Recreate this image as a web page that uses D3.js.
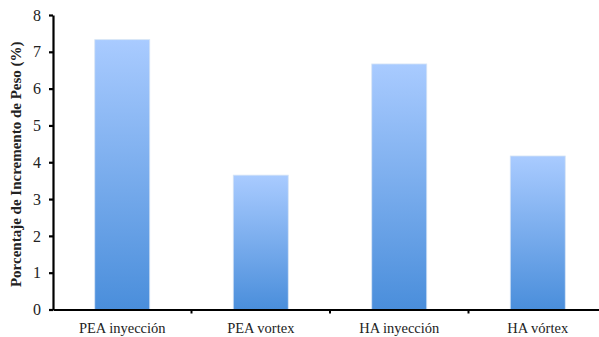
<!DOCTYPE html>
<html>
<head>
<meta charset="utf-8">
<script src="https://cdn.jsdelivr.net/npm/d3@7"></script>
<style>
  html, body { margin: 0; padding: 0; background: #fff; }
  svg { display: block; }
</style>
</head>
<body>
<svg id="chart" width="599" height="337"></svg>
<script>
const categories = ["PEA inyección", "PEA vortex", "HA inyección", "HA vórtex"];
const values = [7.33, 3.65, 6.67, 4.17];
const yTicks = [0, 1, 2, 3, 4, 5, 6, 7, 8];
const yTitle = "Porcentaje de Incremento de Peso (%)";

(function () {
const svg = d3.select("#chart");
const mLeft = 53, mRight = 607, mTop = 15, mBottom = 309.5;

const x = d3.scaleBand().domain(categories).range([mLeft, mRight]).paddingInner(0).paddingOuter(0);
const y = d3.scaleLinear().domain([0, 8]).range([mBottom, mTop]);

const defs = svg.append("defs");
const grad = defs.append("linearGradient").attr("id", "barGrad")
  .attr("x1", 0).attr("y1", 0).attr("x2", 0).attr("y2", 1);
grad.append("stop").attr("offset", "0%").attr("stop-color", "#a9cbff");
grad.append("stop").attr("offset", "100%").attr("stop-color", "#4a8edb");

const barW = 55;
svg.append("g").selectAll("rect").data(values).join("rect")
  .attr("x", (d, i) => x(categories[i]) + x.bandwidth() / 2 - barW / 2)
  .attr("y", d => y(d))
  .attr("width", barW)
  .attr("height", d => y(0) - y(d))
  .attr("fill", "url(#barGrad)")
  .attr("stroke", "#d6e4f5")
  .attr("stroke-width", 0.8);

// Y axis
const yAxis = d3.axisLeft(y).tickValues(yTicks).tickSize(4).tickSizeOuter(0).tickPadding(8);
const gy = svg.append("g").attr("transform", `translate(${mLeft},0)`).call(yAxis);
gy.select(".domain").attr("stroke", "#000").attr("stroke-width", 2.2);
gy.selectAll(".tick line").attr("stroke", "#000").attr("stroke-width", 2.2);
gy.selectAll(".tick text").attr("font-family", "Liberation Serif, serif")
  .attr("font-size", 16).attr("fill", "#222");

// X axis
const xAxis = d3.axisBottom(x).tickSize(0).tickSizeOuter(0).tickPadding(13);
const gx = svg.append("g").attr("transform", `translate(0,${mBottom})`).call(xAxis);
gx.select(".domain").attr("stroke", "#000").attr("stroke-width", 2.2);
gx.selectAll(".tick text").attr("font-family", "Liberation Serif, serif")
  .attr("font-size", 14.5).attr("fill", "#222");

// category boundary ticks
const bounds = categories.slice(1).map(c => x(c));
svg.append("g").selectAll("line").data(bounds).join("line")
  .attr("x1", d => d).attr("x2", d => d)
  .attr("y1", mBottom).attr("y2", mBottom + 4)
  .attr("stroke", "#000").attr("stroke-width", 2);

// Y title
svg.append("text")
  .attr("transform", `translate(21,${(mTop + mBottom) / 2 + 2}) rotate(-90)`)
  .attr("text-anchor", "middle")
  .attr("font-family", "Liberation Serif, serif")
  .attr("font-weight", "bold")
  .attr("font-size", 15)
  .attr("fill", "#222")
  .text(yTitle);
})();
</script>
</body>
</html>
